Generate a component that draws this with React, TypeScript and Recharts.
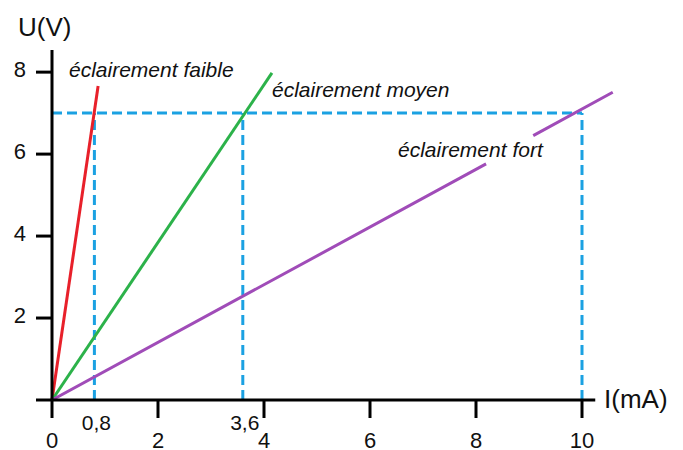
import { LineChart, Line, XAxis, YAxis, ReferenceLine } from "recharts";

// current I (mA) and voltage U (V)
const iFaible = [0, 0.87];
const uFaible = [0, 7.66];
const iMoyen = [0, 4.15];
const uMoyen = [0, 7.98];
// the strong-light line is broken where its label sits
const iFort = [0, 8.19, 8.6, 9.08, 10.58];
const uFort = [0, 5.76, null, 6.45, 7.51];

const xTicks = [0, 0.8, 2, 3.6, 4, 6, 8, 10];
const yTicks = [0, 2, 4, 6, 8];
const markedI = [0.8, 3.6, 10];
const markedU = 7;

const toRows = (xs: number[], ys: (number | null)[]) =>
  xs.map((x, k) => ({ x, u: ys[k] }));

const faible = toRows(iFaible, uFaible);
const moyen = toRows(iMoyen, uMoyen);
const fort = toRows(iFort, uFort);

const FONT = "'Liberation Sans', Arial, sans-serif";
const BLUE = "#1ba1e2";

const XTick = (props: any) => {
  const { x, y, payload } = props;
  const v = payload.value;
  const marked = markedI.includes(v) && !Number.isInteger(v);
  const label = String(v).replace(".", ",");
  if (marked) {
    return (
      <text x={x + 2} y={y + 30} textAnchor="middle" fontSize={21} fontFamily={FONT} fill="#111">
        {label}
      </text>
    );
  }
  return (
    <g>
      <line x1={x} x2={x} y1={y} y2={y + 18} stroke="#000" strokeWidth={3} />
      <text x={x} y={y + 48} textAnchor="middle" fontSize={22} fontFamily={FONT} fill="#111">
        {label}
      </text>
    </g>
  );
};

const YTick = (props: any) => {
  const { y, payload } = props;
  if (payload.value === 0) return <g />;
  return (
    <text x={26} y={y + 5} textAnchor="end" fontSize={22} fontFamily={FONT} fill="#111">
      {payload.value}
    </text>
  );
};

export default function App() {
  return (
    <div style={{ position: "absolute", left: 0, top: 0, width: 683, height: 450, background: "#fff" }}>
      <LineChart width={683} height={450} margin={{ top: 50, right: 48, left: 0, bottom: 0 }}>
        <XAxis
          type="number"
          dataKey="x"
          domain={[0, 11]}
          ticks={xTicks}
          interval={0}
          axisLine={false}
          tickLine={false}
          tickSize={0}
          tickMargin={0}
          height={50}
          tick={<XTick />}
        />
        <YAxis
          type="number"
          domain={[0, 8.54]}
          ticks={yTicks}
          width={52}
          allowDataOverflow
          axisLine={{ stroke: "#000", strokeWidth: 3 }}
          tickLine={{ stroke: "#000", strokeWidth: 3 }}
          tickSize={16}
          tick={<YTick />}
        />
        <ReferenceLine
          segment={[{ x: 0, y: markedU }, { x: 10, y: markedU }]}
          stroke={BLUE}
          strokeWidth={3}
          strokeDasharray="10 5"
        />
        {markedI.map((i) => (
          <ReferenceLine
            key={i}
            segment={[{ x: i, y: 0 }, { x: i, y: markedU }]}
            stroke={BLUE}
            strokeWidth={3}
            strokeDasharray="10 5"
          />
        ))}
        <Line data={faible} dataKey="u" stroke="#e8202a" strokeWidth={3} dot={false} isAnimationActive={false} />
        <Line data={moyen} dataKey="u" stroke="#2cb24a" strokeWidth={3} dot={false} isAnimationActive={false} />
        <Line data={fort} dataKey="u" stroke="#a04cb8" strokeWidth={3} dot={false} isAnimationActive={false} connectNulls={false} />
        <ReferenceLine segment={[{ x: 0, y: 0 }, { x: 10.25, y: 0 }]} stroke="#000" strokeWidth={3} />
      </LineChart>
      <svg width={683} height={450} style={{ position: "absolute", left: 0, top: 0, pointerEvents: "none" }}>
        <text x={18} y={36} fontSize={26} fontFamily={FONT} fill="#111">U(V)</text>
        <text x={604} y={408} fontSize={26} fontFamily={FONT} fill="#111">I(mA)</text>
        <g fontSize={21} fontStyle="italic" fontFamily={FONT} fill="#111">
          <text x={69} y={77}>éclairement faible</text>
          <text x={272} y={97}>éclairement moyen</text>
          <text x={398} y={157}>éclairement fort</text>
        </g>
      </svg>
    </div>
  );
}
